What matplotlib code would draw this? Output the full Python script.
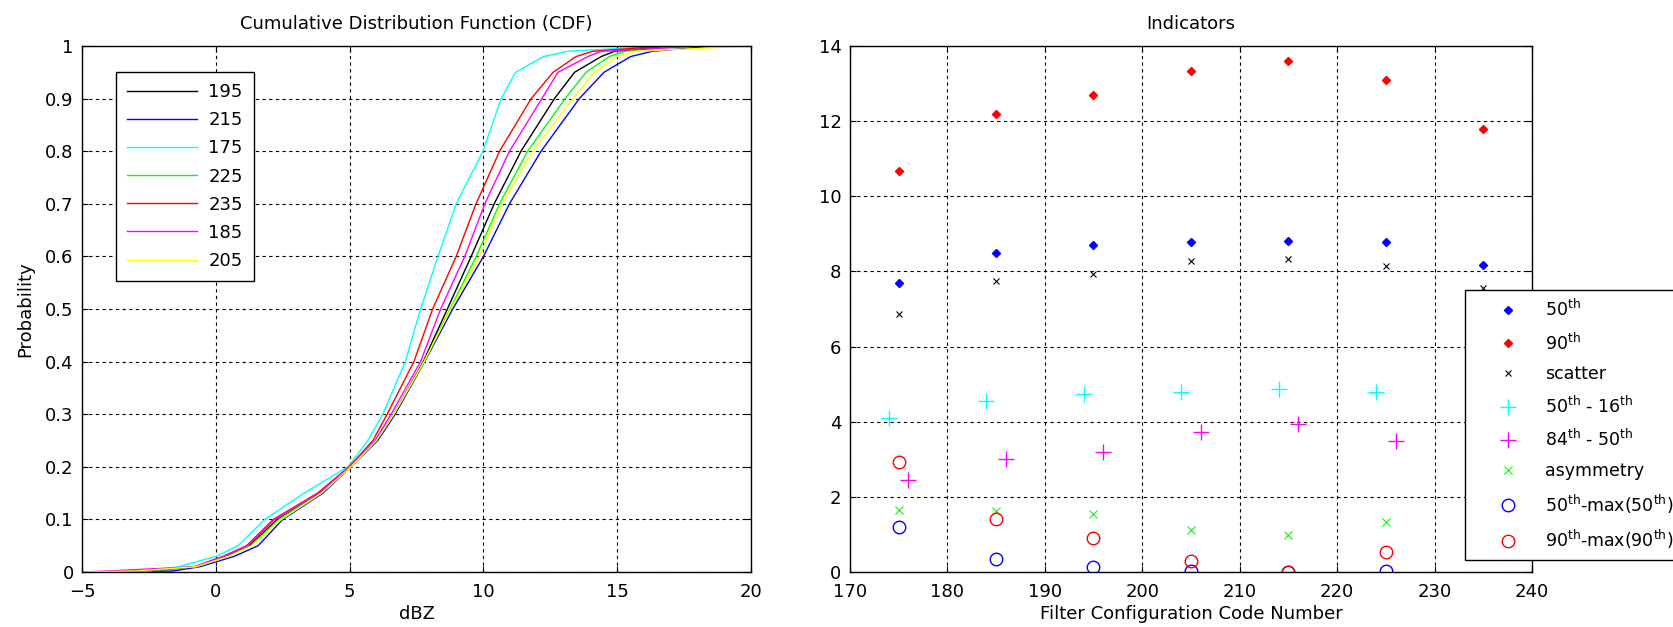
import matplotlib
matplotlib.use("Agg")
import matplotlib.pyplot as plt
from matplotlib.ticker import FormatStrFormatter

plt.rcParams['font.family'] = ['DejaVu Sans']
plt.rcParams['mathtext.fontset'] = 'dejavusans'

# ---------------- CDF data: dBZ value reached at each probability level ----
prob_levels = [0.0, 0.002, 0.01, 0.03, 0.05, 0.1, 0.15, 0.2, 0.25, 0.3, 0.4,
               0.5, 0.6, 0.7, 0.8, 0.9, 0.95, 0.98, 0.99, 1.0]

cdf_labels = ['195', '215', '175', '225', '235', '185', '205']
cdf_colors = ['black', 'blue', 'cyan', '#00ff00', 'red', 'magenta', 'yellow']

dbz_195 = [-4.0, -2.5, -0.75, 0.40, 1.25, 2.30, 3.90, 5.00, 6.00, 6.65, 7.75,
           8.65, 9.54, 10.40, 11.40, 12.65, 13.40, 14.40, 14.90, 17.0]
dbz_215 = [-3.6, -1.6, -0.60, 0.70, 1.58, 2.50, 4.00, 5.05, 6.05, 6.70, 7.80,
           8.85, 10.00, 10.97, 12.15, 13.58, 14.50, 15.50, 16.30, 18.6]
dbz_175 = [-3.0, -2.5, -1.40, 0.03, 0.83, 1.83, 3.30, 4.94, 5.68, 6.24, 7.08,
           7.65, 8.30, 8.98, 9.98, 10.66, 11.20, 12.24, 13.15, 16.8]
dbz_225 = [-4.5, -2.5, -0.75, 0.45, 1.30, 2.35, 3.90, 5.00, 6.00, 6.65, 7.78,
           8.75, 9.73, 10.60, 11.65, 13.05, 13.83, 14.70, 15.30, 17.5]
dbz_235 = [-4.0, -3.0, -0.80, 0.28, 1.15, 2.15, 3.80, 4.98, 5.87, 6.40, 7.40,
           8.10, 8.98, 9.72, 10.60, 11.78, 12.60, 13.46, 14.08, 16.8]
dbz_185 = [-5.0, -4.0, -0.80, 0.30, 1.20, 2.20, 3.85, 5.00, 5.95, 6.55, 7.65,
           8.40, 9.30, 10.05, 10.97, 12.18, 12.78, 13.90, 14.40, 18.2]
dbz_205 = [-5.0, -3.0, -0.75, 0.50, 1.35, 2.45, 3.95, 5.05, 6.00, 6.65, 7.78,
           8.78, 9.85, 10.70, 11.84, 13.34, 14.15, 15.00, 15.70, 20.0]

cdf_series = [dbz_195, dbz_215, dbz_175, dbz_225, dbz_235, dbz_185, dbz_205]

# ---------------- Indicator data per filter configuration ----------------
codes = [175, 185, 195, 205, 215, 225, 235]
p50 = [7.68, 8.50, 8.70, 8.78, 8.82, 8.78, 8.18]
p90 = [10.68, 12.20, 12.69, 13.34, 13.60, 13.10, 11.79]
scatter = [6.87, 7.74, 7.93, 8.27, 8.34, 8.14, 7.57]
p50_minus_p16 = [4.09, 4.54, 4.74, 4.78, 4.88, 4.78, 4.45]
p84_minus_p50 = [2.44, 3.00, 3.19, 3.72, 3.93, 3.48, 3.20]
asymmetry = [1.64, 1.62, 1.55, 1.11, 0.98, 1.32, 1.25]
p50_from_max = [1.19, 0.34, 0.13, 0.04, 0.00, 0.04, 0.64]
p90_from_max = [2.94, 1.42, 0.90, 0.28, 0.00, 0.53, 1.81]

FS = 13

grid_kw = dict(color='black', linestyle=(0, (3, 3)), linewidth=0.8)

fig = plt.figure(figsize=(16.73, 6.27), dpi=100)

# ---------------- left panel: CDF curves ----------------
ax1 = fig.add_axes([0.049, 0.0877, 0.400, 0.8389])
for vals, lab, col in zip(cdf_series, cdf_labels, cdf_colors):
    ax1.plot(vals, prob_levels, color=col, lw=1.0, label=lab)
ax1.set_xlim(-5, 20)
ax1.set_ylim(0, 1)
ax1.set_xticks(range(-5, 21, 5))
ax1.set_yticks([i / 10 for i in range(11)])
ax1.yaxis.set_major_formatter(FormatStrFormatter('%g'))
ax1.grid(True, **grid_kw)
ax1.set_title('Cumulative Distribution Function (CDF)', fontsize=FS, pad=12)
ax1.set_xlabel('dBZ', fontsize=FS, labelpad=3)
ax1.set_ylabel('Probability', fontsize=FS, labelpad=8)
leg1 = ax1.legend(loc='upper left', bbox_to_anchor=(0.0504, 0.9506),
                  borderaxespad=0, fontsize=FS,
                  fancybox=False, framealpha=1, edgecolor='black',
                  handlelength=3.9, handletextpad=0.6, labelspacing=0.56,
                  borderpad=0.62)
leg1.get_frame().set_linewidth(1.0)

# ---------------- right panel: indicators ----------------
ax2 = fig.add_axes([0.508, 0.0877, 0.4077, 0.8389])
ax2.plot(codes, p50, linestyle='none', marker='D', ms=3.8, color='blue',
         label='50$^{\\rm th}$')
ax2.plot(codes, p90, linestyle='none', marker='D', ms=3.8, color='red',
         label='90$^{\\rm th}$')
ax2.plot(codes, scatter, linestyle='none', marker='x', ms=5, mew=0.8,
         color='black', label='scatter')
ax2.plot([c - 1 for c in codes], p50_minus_p16, linestyle='none', marker='+',
         ms=11, mew=1.0, color='cyan', label='50$^{\\rm th}$ - 16$^{\\rm th}$')
ax2.plot([c + 1 for c in codes], p84_minus_p50, linestyle='none', marker='+',
         ms=11, mew=1.0, color='magenta',
         label='84$^{\\rm th}$ - 50$^{\\rm th}$')
ax2.plot(codes, asymmetry, linestyle='none', marker='x', ms=5.5, mew=0.8,
         color='#00ff00', label='asymmetry')
ax2.plot(codes, p50_from_max, linestyle='none', marker='o', ms=9, mew=1.0,
         mfc='none', color='blue',
         label='50$^{\\rm th}$-max(50$^{\\rm th}$)')
ax2.plot(codes, p90_from_max, linestyle='none', marker='o', ms=9, mew=1.0,
         mfc='none', color='red',
         label='90$^{\\rm th}$-max(90$^{\\rm th}$)')
ax2.set_xlim(170, 240)
ax2.set_ylim(0, 14)
ax2.set_xticks(range(170, 241, 10))
ax2.set_yticks(range(0, 15, 2))
ax2.grid(True, **grid_kw)
ax2.set_title('Indicators', fontsize=FS, pad=12)
ax2.set_xlabel('Filter Configuration Code Number', fontsize=FS, labelpad=3)
leg2 = ax2.legend(loc='upper left', bbox_to_anchor=(0.902, 0.536),
                  borderaxespad=0, fontsize=12.5, fancybox=False,
                  framealpha=1, edgecolor='black', numpoints=1,
                  handlelength=3.9, handletextpad=0.2, labelspacing=0.70,
                  borderpad=0.5)
leg2.get_frame().set_linewidth(1.0)
leg2.set_zorder(10)

for ax in (ax1, ax2):
    ax.tick_params(direction='in', length=4, top=True, right=True,
                   labelsize=FS)
    ax.tick_params(axis='x', pad=8)
    ax.tick_params(axis='y', pad=6)
    for sp in ax.spines.values():
        sp.set_linewidth(1.0)
        sp.set_color('black')
    ax.set_axisbelow(True)

fig.savefig('out.png', dpi=100)
